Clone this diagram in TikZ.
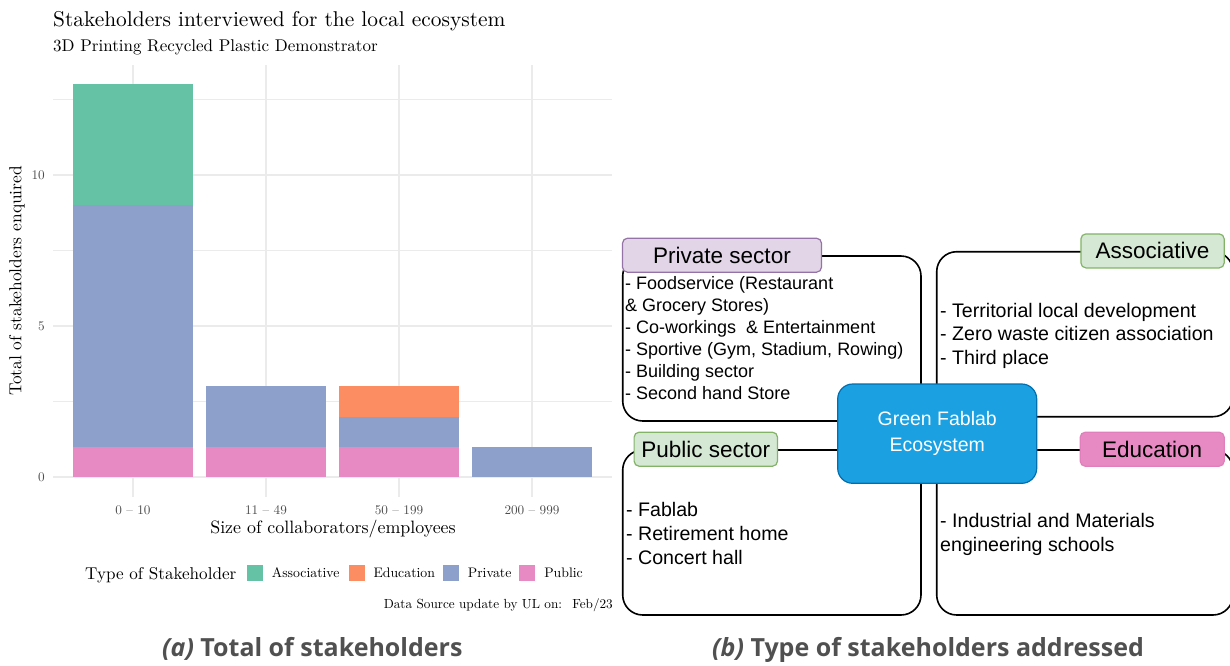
\documentclass[tikz,border=0pt]{standalone}
\usepackage{fontspec}
\usepackage{xcolor}
\usetikzlibrary{positioning}
\setmainfont{lmroman10-regular}[Extension=.otf,ItalicFont=lmroman10-italic,BoldFont=lmroman10-bold]
\newfontfamily\drawfont{Liberation Sans}
\newfontfamily\capfont{Open Sans}
\definecolor{assoc}{HTML}{66C2A5}
\definecolor{educ}{HTML}{FC8D62}
\definecolor{priv}{HTML}{8DA0CB}
\definecolor{publ}{HTML}{E78AC3}
\definecolor{gridgray}{HTML}{EBEBEB}
\definecolor{tickgray}{HTML}{4D4D4D}
\definecolor{purplefill}{HTML}{E1D5E7}
\definecolor{purpleline}{HTML}{9673A6}
\definecolor{greenfill}{HTML}{D5E8D4}
\definecolor{greenline}{HTML}{82B366}
\definecolor{pinkfill}{HTML}{E78AC3}
\definecolor{pinkline}{HTML}{E07FBB}
\definecolor{hubfill}{HTML}{1BA1E2}
\definecolor{hubline}{HTML}{006EAF}
\definecolor{capgray}{HTML}{505050}

\begin{document}
\begin{tikzpicture}[x=1pt,y=-1pt,
  grid/.style={draw=gridgray,line width=1.1pt},
  ytick/.style={anchor=east,inner sep=0,text=tickgray,font=\fontsize{13.2}{15}\selectfont},
  xtick/.style={anchor=base,inner sep=0,text=tickgray,font=\fontsize{13.2}{15}\selectfont},
  legtext/.style={anchor=base west,inner sep=0,font=\fontsize{13.8}{16}\selectfont},
  sectorbox/.style={draw,line width=1.6pt,rounded corners=20pt,inner sep=0,minimum height=165pt},
  sectorlabel/.style={rounded corners=5pt,line width=1.2pt,inner sep=0,minimum height=34pt,
    font=\drawfont\fontsize{22.5}{26}\selectfont},
  sectorlist/.style={anchor=north west,inner sep=0,align=left,font=\drawfont\fontsize{19.6}{23.7}\selectfont},
  caption/.style={anchor=base west,inner sep=0,text=capgray,font=\capfont\bfseries\fontsize{25}{29}\selectfont}]
\useasboundingbox (0,0) rectangle (1230,665);

% chart (a)
\foreach \y in {99.3,175,250.5,326,401.5,477} \draw[grid] (53,\y) -- (612,\y);
\foreach \x in {133,266,399,532} \draw[grid] (\x,65) -- (\x,497);
\foreach \x/\lo/\hi/\col in {133/0/1/publ,133/1/9/priv,133/9/13/assoc,
    266/0/1/publ,266/1/3/priv,399/0/1/publ,399/1/2/priv,399/2/3/educ,532/0/1/priv}
  \fill[\col] ({\x-60},{477-30.2*\lo}) rectangle ({\x+60},{477-30.2*\hi});
\foreach \y/\label in {477/0,326/5,175/10}
  \node[ytick] (ytick-\label) at (45,\y) {\label};
\foreach \x/\label in {133/0 -- 10,266/11 -- 49,399/50 -- 199,532/200 -- 999}
  \node[xtick] (xtick-\x) at (\x,514) {\label};
\node[anchor=base west,inner sep=0,font=\fontsize{21.4}{24}\selectfont] (title) at (53,26)
  {Stakeholders interviewed for the local ecosystem};
\node[anchor=base west,inner sep=0,font=\fontsize{17}{20}\selectfont] (subtitle) at (53,51)
  {3D Printing Recycled Plastic Demonstrator};
\node[rotate=90,inner sep=0,font=\fontsize{17.4}{20}\selectfont] (ytitle) at (17,281)
  {Total of stakeholders enquired};
\node[anchor=base,inner sep=0,font=\fontsize{17.9}{20}\selectfont] (xtitle) at (333,533)
  {Size of collaborators/employees};
\node[anchor=base west,inner sep=0,font=\fontsize{17.1}{20}\selectfont] (legtitle) at (85,579)
  {Type of Stakeholder};
\foreach \x/\col/\label in {247/assoc/Associative,348.6/educ/Education,443/priv/Private,519.4/publ/Public} {
  \fill[\col] (\x,565) rectangle +(16,16);
  \node[legtext] (leg-\label) at (\x+24.7,577) {\label};
}
\node[anchor=base east,inner sep=0,font=\fontsize{13.2}{16}\selectfont] (source) at (613,608)
  {Data Source update by UL on:~ Feb/23};

% diagram (b)
\node[sectorbox,minimum width=298.3pt] (privbox) at (771.85,338.5) {};
\node[sectorbox,minimum width=296.3pt] (assocbox) at (1084.85,334.2) {};
\node[sectorbox,minimum width=298.3pt] (publbox) at (771.85,532.5) {};
\node[sectorbox,minimum width=296.3pt] (educbox) at (1084.85,532.5) {};

\node[sectorlabel,draw=purpleline,fill=purplefill,minimum width=199pt,anchor=west] (privlabel)
  at (privbox.north west) {Private sector};
\node[sectorlabel,draw=greenline,fill=greenfill,minimum width=143.3pt,anchor=east] (assoclabel)
  at ([xshift=-9pt]assocbox.north east) {Associative};
\node[sectorlabel,draw=greenline,fill=greenfill,minimum width=143.4pt,anchor=west] (publabel)
  at ([xshift=11.6pt]publbox.north west) {Public sector};
\node[sectorlabel,draw=pinkline,fill=pinkfill,minimum width=144pt,anchor=east] (educlabel)
  at ([xshift=-9pt]educbox.north east) {Education};

\node[sectorlist,font=\drawfont\fontsize{18}{22}\selectfont] (privlist) at (625,276.6)
  {- Foodservice (Restaurant\\\& Grocery Stores)\\- Co-workings\ \ \& Entertainment\\
   - Sportive (Gym, Stadium, Rowing)\\- Building sector\\- Second hand Store};
\node[sectorlist] (assoclist) at (940,302.8)
  {- Territorial local development\\- Zero waste citizen association\\- Third place};
\node[sectorlist] (publist) at (626,502.3)
  {- Fablab\\- Retirement home\\- Concert hall};
\node[sectorlist] (edulist) at (940,513)
  {- Industrial and Materials\\engineering schools};

\node[draw=hubline,fill=hubfill,line width=1.2pt,rounded corners=15pt,minimum width=199pt,
  minimum height=99.3pt,align=center,text=white,font=\drawfont\fontsize{19.5}{25.6}\selectfont] (hub)
  at (937.2,433.65) {Green Fablab\\Ecosystem};

% captions
\node[caption] (capa) at (162,656) {\textit{(a)} Total of stakeholders};
\node[caption] (capb) at (712,656) {\textit{(b)} Type of stakeholders addressed};
\end{tikzpicture}
\end{document}
